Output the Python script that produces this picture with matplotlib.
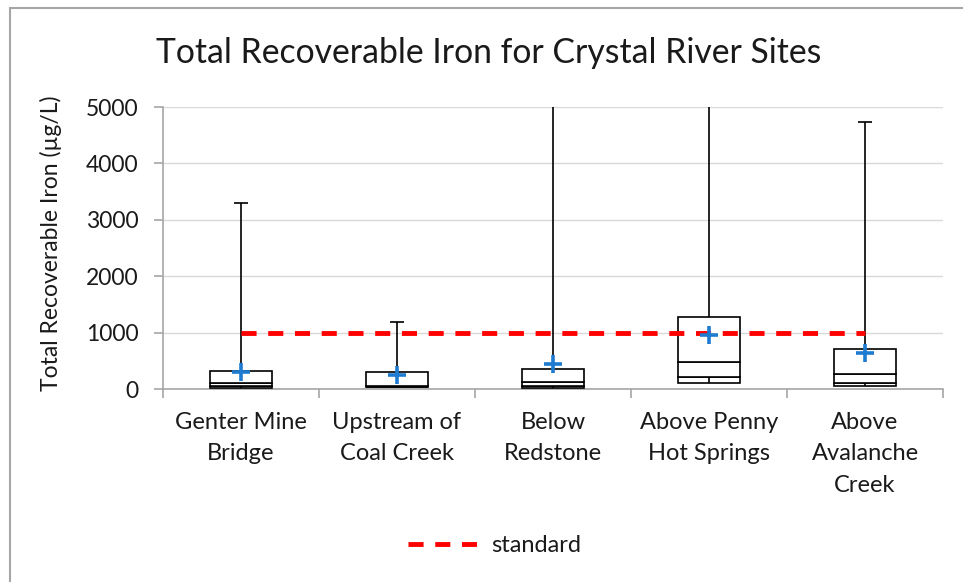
import matplotlib
matplotlib.use("Agg")
import matplotlib.pyplot as plt
from matplotlib.patches import Rectangle
from matplotlib.lines import Line2D

# ---- data ----
categories = ["Genter Mine\nBridge", "Upstream of\nCoal Creek", "Below\nRedstone",
              "Above Penny\nHot Springs", "Above\nAvalanche\nCreek"]
box_min = [25, 30, 25, 106, 60]
box_q1 = [60, 40, 60, 213, 100]
box_median = [100, 50, 130, 479, 266]
box_q3 = [325, 307, 349, 1277, 709]
whisker_max = [3300, 1190, 7000, 8000, 4740]
means = [310, 250, 440, 957, 633]
standard = 1000
yticks = [0, 1000, 2000, 3000, 4000, 5000]

W, H = 963, 582
fig = plt.figure(figsize=(W / 100, H / 100), dpi=100)
plt.rcParams['font.family'] = ['Lato', 'DejaVu Sans']
txt = '#1a1a1a'

# figure border (left and top visible)
fig.patches.append(Rectangle((10 / W, -0.05), 1.2, (H - 8) / H + 0.05, transform=fig.transFigure,
                             fill=False, edgecolor='#a6a6a6', linewidth=1.5))

ax = fig.add_axes([163 / W, (H - 389) / H, (943 - 163) / W, (389 - 107) / H])
ax.set_xlim(-0.5, len(categories) - 0.5)
ax.set_ylim(0, 5000)
ax.set_yticks(yticks)
ax.set_yticklabels([str(v) for v in yticks], fontsize=16.5, color=txt)
ax.yaxis.grid(True, color='#d9d9d9', linewidth=1)
ax.set_axisbelow(True)
for s in ['top', 'right']:
    ax.spines[s].set_visible(False)
for s in ['left', 'bottom']:
    ax.spines[s].set_color('#a6a6a6')
    ax.spines[s].set_linewidth(1.2)
ax.tick_params(axis='y', length=6.5, color='#a6a6a6', width=1.2, pad=11)

# category labels and separator ticks
x = list(range(len(categories)))
ax.set_xticks([i - 0.5 for i in range(len(categories) + 1)])
ax.set_xticklabels([''] * (len(categories) + 1))
ax.tick_params(axis='x', length=6.5, color='#a6a6a6', width=1.2)
for i, lab in enumerate(categories):
    ax.text(i, -400, lab, ha='center', va='top', fontsize=17, color=txt,
            linespacing=1.62)

bw = 0.4
for i in x:
    segs = [(box_min[i], box_q1[i]), (box_q1[i], box_median[i]), (box_median[i], box_q3[i])]
    for lo, hi in segs:
        ax.bar(i, hi - lo, bottom=lo, width=bw, facecolor='white', edgecolor='black',
               linewidth=1.2, zorder=3)
    ax.vlines(i, box_q3[i], whisker_max[i], color='black', linewidth=1.2, zorder=3)
    ax.vlines(i, box_min[i], box_q1[i], color='black', linewidth=1.2, zorder=4)
    ax.hlines(whisker_max[i], i - 0.045, i + 0.045, color='black', linewidth=1.2, zorder=3)

ax.plot(x, means, linestyle='none', marker='+', markersize=13, markeredgewidth=2.6,
        color='#1f7bd0', zorder=6)

ax.plot([0, len(categories) - 1], [standard, standard], color='#ff0000',
        linewidth=3.5, dashes=(3.1, 2.4), zorder=5)

ax.set_ylabel("Total Recoverable Iron (µg/L)", fontsize=16.5, color=txt)
ax.yaxis.set_label_coords((62 - 163) / 780, (389 - 243) / 282)

fig.text(489 / W, 1 - 53 / H, "Total Recoverable Iron for Crystal River Sites",
         ha='center', va='center', fontsize=24.3, color=txt)

leg_handle = Line2D([0], [0], color='#ff0000', linewidth=3.5, dashes=(3.1, 2.4))
fig.legend([leg_handle], ['standard'], loc='center', bbox_to_anchor=(494.5 / W, 1 - 546 / H),
           frameon=False, fontsize=17, handlelength=3.1, handletextpad=0.45,
           labelcolor=txt, borderpad=0, borderaxespad=0)

fig.savefig("out.png", dpi=100)
